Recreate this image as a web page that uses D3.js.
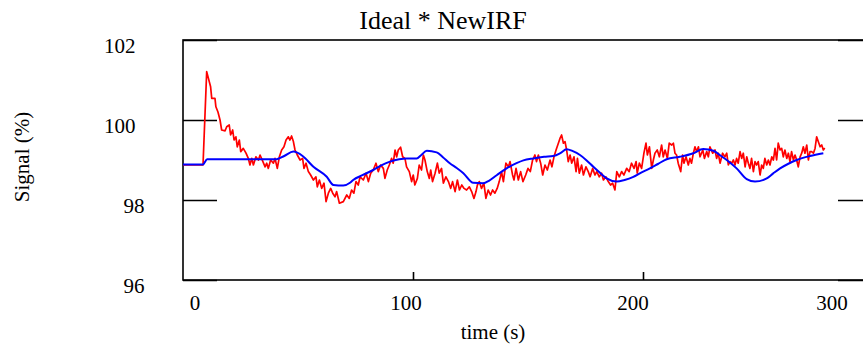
<!DOCTYPE html>
<html>
<head>
<meta charset="utf-8">
<script src="https://cdn.jsdelivr.net/npm/d3@7"></script>
<style>
  html, body { margin: 0; padding: 0; background: #fff; }
  svg { display: block; }
  text { font-family: "Liberation Serif", "Times New Roman", serif; fill: #000; }
</style>
</head>
<body>
<svg id="chart" width="863" height="349"></svg>
<script>
// Measured signal (red) and model response (blue), [time s, signal %]
const redSignal = [
  [0,98.875],[8.7,98.875],[10.3,101.21],[12,100.83],[12.5,100.54],[13.9,100.54],[14.3,100.33],[15.2,100.2],
  [16.1,100.0],[16.8,99.75],[18.3,99.73],[19,99.83],[20.1,99.875],[20.7,99.625],[21.6,99.75],[22.2,99.5],
  [23,99.58],[23.6,99.33],[24.5,99.5],[25.1,99.21],[26.2,99.29],[27.4,99.17],[28.4,99.04],[29.1,98.875],
  [29.9,99.04],[30.6,98.875],[31.7,99.08],[32.8,99.0],[33.5,99.125],[34.6,98.98],[35.7,98.83],[36.4,98.92],
  [37.1,98.79],[38.1,99.0],[39.3,98.92],[40,99.04],[41,98.79],[41.9,99.08],[42.9,99.25],[43.9,99.33],
  [44.8,99.5],[45.8,99.58],[46.5,99.5],[47.2,99.6],[48,99.46],[48.7,99.25],[49.7,99.125],[50.9,99.0],
  [52,99.04],[52.6,98.79],[53.5,98.92],[54.5,98.71],[55.5,98.625],[56.7,98.5],[57.8,98.58],[58.4,98.33],
  [59.3,98.5],[60.3,98.29],[61.3,98.42],[62.2,97.96],[63.2,98.17],[64.2,98.29],[65.1,98.17],[66.1,98.08],
  [66.8,98.21],[68,97.92],[69.7,97.96],[71.2,98.125],[72.3,98.04],[73.3,98.25],[74.3,98.17],[75.2,98.46],
  [76.2,98.375],[77,98.58],[78.4,98.5],[79.6,98.67],[80.6,98.46],[81.6,98.67],[82.7,98.75],[83.9,98.92],
  [84.9,98.71],[85.9,98.875],[87.1,98.79],[87.8,98.54],[88.8,98.75],[89.7,98.875],[90.7,99.04],[91.4,98.92],
  [92.2,99.25],[92.9,99.08],[93.6,99.25],[94.6,99.32],[95.5,99.08],[96.5,99.04],[97.2,98.83],[98.4,98.71],
  [99.4,98.46],[100.1,98.625],[100.8,98.375],[101.9,98.54],[102.7,98.875],[103.7,98.75],[104.5,99.125],[105.2,99.0],
  [106.2,98.71],[107.1,98.54],[107.7,98.75],[108.5,98.46],[109.6,98.67],[110.6,98.92],[111.4,98.67],[112.4,98.79],
  [113.2,98.42],[114.3,98.58],[115.4,98.46],[116.4,98.29],[117.2,98.46],[118.3,98.21],[119.3,98.5],[120.2,98.25],
  [121.2,98.375],[122.2,98.29],[123.3,98.25],[124.5,98.33],[125.5,98.21],[126.5,98.04],[127.4,98.21],[128,98.375],
  [128.8,98.46],[129.8,98.29],[130.8,98.42],[131.7,98.04],[132.7,98.25],[133.7,98.125],[134.6,98.25],[135.6,98.17],
  [136.6,98.29],[137.5,98.46],[138.5,98.7],[139.3,98.46],[140.4,98.92],[141.5,98.83],[142.2,98.96],[143.3,98.625],
  [143.9,98.5],[144.8,98.79],[145.8,98.5],[146.8,98.71],[147.8,98.46],[149,98.625],[150,98.79],[151,98.71],
  [152,99.0],[153,99.125],[153.7,98.96],[154.5,99.125],[155.5,98.92],[156.4,98.625],[157.4,98.875],[158.4,98.75],
  [159.6,99.0],[160.4,98.83],[161.3,99.08],[162.2,99.25],[163.2,99.42],[163.9,99.54],[164.6,99.625],[165.4,99.42],
  [166.1,99.46],[166.8,99.25],[167.5,98.96],[168.3,99.125],[169,98.92],[170,99.08],[170.9,98.71],[171.5,99.04],
  [172.3,98.67],[173.3,98.875],[174.1,98.625],[175.2,98.83],[176.2,98.71],[177,98.58],[178.1,98.79],[179.1,98.625],
  [179.9,98.71],[181,98.58],[182,98.67],[182.8,98.5],[183.9,98.58],[184.9,98.46],[185.9,98.375],[186.8,98.42],
  [187.8,98.25],[188.6,98.71],[189.7,98.58],[190.7,98.71],[191.7,98.625],[192.9,98.79],[194,98.71],[195,98.92],
  [196.1,98.79],[197,98.96],[197.5,98.67],[198.4,98.92],[199.4,98.79],[200.4,99.17],[201.3,99.42],[201.9,99.125],
  [202.8,99.33],[203.8,98.79],[204.5,99.0],[205.2,99.17],[206.2,99.25],[207.1,99.08],[208.1,99.375],[208.8,99.08],
  [209.6,99.25],[210.6,99.04],[211.4,99.42],[212.5,99.375],[213.2,99.42],[213.9,99.17],[214.6,99.125],[215.3,98.92],
  [216.4,98.71],[217.2,99.125],[217.8,98.92],[218.7,99.08],[219.7,98.875],[220.4,99.04],[221.1,98.92],[221.9,99.17],
  [222.6,99.33],[223.3,99.21],[224.1,99.33],[224.8,99.08],[226,99.25],[226.7,99.04],[227.7,99.21],[228.4,99.08],
  [229.1,99.33],[230.3,99.17],[231.3,99.25],[232,99.04],[232.7,99.17],[233.5,98.92],[234.6,99.17],[235.6,99.08],
  [236.4,99.17],[237.1,98.875],[237.8,98.96],[238.6,98.92],[239.3,99.0],[240,98.875],[240.7,99.04],[241.4,98.92],
  [242.2,99.21],[242.9,99.04],[243.6,99.17],[244.4,98.83],[245.1,99.08],[245.8,98.92],[246.5,98.79],[247.2,99.04],
  [248,98.71],[248.7,98.96],[249.4,98.875],[250.1,98.96],[250.9,98.625],[251.6,98.875],[252.3,98.79],[253,99.04],
  [253.8,98.875],[254.5,99.0],[255.2,98.875],[256,99.08],[256.7,99.0],[257.4,99.29],[258.1,99.0],[258.8,99.42],
  [259.6,99.25],[260.3,99.29],[261,99.08],[261.7,99.25],[262.5,99.04],[263.2,99.17],[263.9,98.96],[264.6,99.21],
  [265.4,99.0],[266.1,99.125],[266.8,99.0],[267.5,98.83],[268.3,99.08],[269,99.17],[269.7,99.33],[270.4,99.17],
  [271.2,99.375],[271.9,99.0],[272.6,99.21],[273.3,99.21],[274.1,99.17],[274.8,99.29],[275.5,99.58],[276.2,99.46],
  [277,99.33],[277.7,99.375],[278.4,99.25],[279,99.3]
];

const blueSignal = [
  [0,98.89],[8.7,98.89],[10.5,99.02],[40.7,99.02],[44,99.1],[48,99.21],[52,99.1],[56.7,98.83],[62.5,98.58],
  [65.4,98.375],[69.7,98.36],[72.6,98.43],[74,98.5],[78,98.62],[82.7,98.75],[86,98.86],[90,98.96],[94,99.02],
  [97.3,99.04],[101.6,99.04],[103.5,99.12],[106,99.23],[110.3,99.19],[113,99.07],[116,98.92],[119,98.8],
  [121.9,98.67],[126.2,98.43],[130.6,98.42],[133,98.48],[136.4,98.62],[140.7,98.79],[145,98.92],[148,98.99],
  [152.3,99.04],[157,99.08],[161,99.1],[164,99.17],[166.8,99.27],[169.5,99.22],[172.6,99.125],[175.5,98.99],
  [178.4,98.83],[181.3,98.68],[184.2,98.54],[188.6,98.46],[192,98.5],[195.8,98.58],[199,98.68],[203,98.79],
  [206.5,98.9],[210.3,99.02],[216,99.08],[221.9,99.17],[226.2,99.275],[230.6,99.23],[233.5,99.12],[236.4,99.0],
  [240.7,98.79],[245.1,98.52],[248.7,98.46],[253.8,98.54],[256.5,98.66],[259.6,98.79],[263,98.9],[266.8,99.0],
  [272.6,99.1],[278.4,99.17]
];

const xTickValues = [0, 100, 200, 300];
const yTickValues = [96, 98, 100, 102];
const chartTitle = "Ideal * NewIRF";
const xTitle = "time (s)";
const yTitle = "Signal (%)";

const svg = d3.select("#chart");

// Plot frame runs from t = 0 to 300 s and 96 to 102 %
const x = d3.scaleLinear().domain([0, 300]).range([183, 873]);
const y = d3.scaleLinear().domain([96, 102]).range([280, 40]);
// Tick numbers sit at their own spots along the bottom edge
const xLabel = d3.scaleLinear().domain(xTickValues).range([195, 406, 633, 832]);

// frame
svg.append("rect")
  .attr("x", x(0)).attr("y", y(102))
  .attr("width", x(300) - x(0)).attr("height", y(96) - y(102))
  .attr("fill", "none").attr("stroke", "#000").attr("stroke-width", 1.6);

// inward ticks on left, right and bottom edges
const tickStyle = g => {
  g.select(".domain").remove();
  g.selectAll(".tick line").attr("stroke", "#000").attr("stroke-width", 1.6);
  g.selectAll(".tick text").remove();
};
svg.append("g").attr("transform", `translate(${x(0)},0)`)
  .call(d3.axisLeft(y).tickValues(yTickValues).tickSize(-34).tickFormat(""))
  .call(tickStyle);
svg.append("g").attr("transform", `translate(${x(300)},0)`)
  .call(d3.axisRight(y).tickValues(yTickValues).tickSize(-35).tickFormat(""))
  .call(tickStyle);
svg.append("g").attr("transform", `translate(0,${y(96)})`)
  .call(d3.axisBottom(x).tickValues([100, 200]).tickSize(-8).tickFormat(""))
  .call(tickStyle);

// y tick numbers
svg.append("g").selectAll("text")
  .data(yTickValues)
  .join("text")
  .attr("x", d => String(d).length === 3 ? 104 : 123.5)
  .attr("y", d => y(d) + 12.7)
  .attr("font-size", 21)
  .text(d => d);

// x tick numbers
svg.append("g").selectAll("text")
  .data(xTickValues)
  .join("text")
  .attr("x", d => xLabel(d))
  .attr("y", 310)
  .attr("text-anchor", "middle")
  .attr("font-size", 21)
  .text(d => d);

// titles
svg.append("text")
  .attr("x", 443).attr("y", 29)
  .attr("text-anchor", "middle")
  .attr("font-size", 26)
  .text(chartTitle);
svg.append("text")
  .attr("x", 493).attr("y", 339)
  .attr("text-anchor", "middle")
  .attr("font-size", 21)
  .text(xTitle);
svg.append("text")
  .attr("transform", "translate(29,157) rotate(-90)")
  .attr("text-anchor", "middle")
  .attr("font-size", 21)
  .text(yTitle);

// series
const line = d3.line().x(d => x(d[0])).y(d => y(d[1]));
svg.append("path")
  .datum(redSignal)
  .attr("d", line)
  .attr("fill", "none")
  .attr("stroke", "#ff0000")
  .attr("stroke-width", 1.7)
  .attr("stroke-linejoin", "round");
svg.append("path")
  .datum(blueSignal)
  .attr("d", line.curve(d3.curveMonotoneX))
  .attr("fill", "none")
  .attr("stroke", "#0000ff")
  .attr("stroke-width", 2);
</script>
</body>
</html>
